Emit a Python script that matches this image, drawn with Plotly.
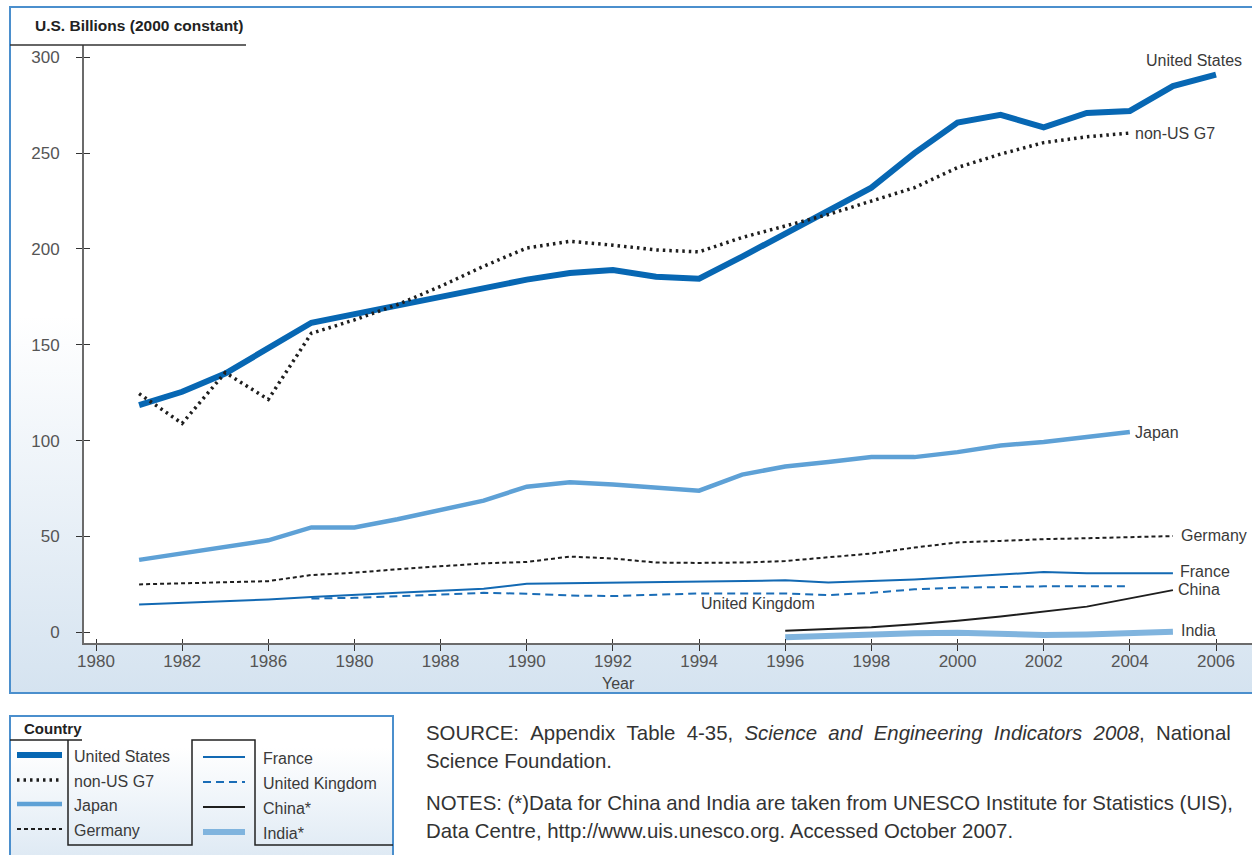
import base64
import plotly.graph_objects as go

# ---------------- data ----------------
years_us = list(range(1981, 2007))
us = [118.5, 125.5, 135.0, 148.0, 161.5, 166.0, 170.5, 175.5, 180.0, 184.0,
      187.5, 189.0, 185.5, 184.5, 196.0, 208.0, 220.0, 232.0, 250.0, 266.0,
      270.0, 263.5, 271.0, 272.0, 285.0, 291.0]

years_g7 = list(range(1981, 2005))
nonus_g7 = [124.5, 109.0, 135.5, 121.5, 156.0, 163.0, 171.0, 180.5, 191.0, 200.5,
            204.0, 202.0, 199.5, 198.5, 206.0, 212.0, 218.0, 225.0, 232.0, 242.5,
            249.5, 255.5, 258.5, 260.5]

years_japan = list(range(1981, 2005))
japan = [37.8, 41.3, 44.6, 48.0, 54.7, 54.7, 59.0, 63.8, 68.7, 76.0,
         78.3, 77.1, 75.4, 73.9, 82.3, 86.5, 88.8, 91.4, 91.4, 94.0,
         97.5, 99.3, 101.9, 104.5]

years_germany = list(range(1981, 2006))
germany = [25.0, 25.6, 26.2, 26.7, 29.9, 31.1, 32.9, 34.6, 36.0, 36.7,
           39.5, 38.5, 36.4, 36.2, 36.4, 37.2, 39.3, 41.1, 44.2, 46.9,
           47.7, 48.6, 49.1, 49.5, 50.2]

years_france = list(range(1981, 2006))
france = [14.5, 15.4, 16.2, 17.1, 18.4, 19.7, 20.7, 21.7, 22.7, 25.3,
          25.6, 26.0, 26.3, 26.7, 26.9, 27.1, 26.0, 26.7, 27.6, 28.8,
          30.2, 31.4, 30.8, 30.8, 30.8]

years_uk = list(range(1985, 2005))
uk = [17.6, 18.0, 18.8, 19.7, 20.6, 20.1, 19.2, 18.9, 19.7, 20.3,
      20.3, 20.3, 19.4, 20.6, 22.4, 23.3, 23.6, 24.0, 24.0, 24.0]

years_china = list(range(1996, 2006))
china = [0.8, 1.7, 2.6, 4.2, 6.0, 8.3, 10.7, 13.4, 17.7, 22.0]

years_india = list(range(1996, 2006))
india = [-2.6, -1.7, -0.9, -0.5, -0.2, -0.8, -1.4, -1.1, -0.6, 0.3]

tick_years = list(range(1980, 2007, 2))
tick_text = ["1980", "1982", "1986", "1980", "1988", "1990", "1992",
             "1994", "1996", "1998", "2000", "2002", "2004", "2006"]
y_ticks = [0, 50, 100, 150, 200, 250, 300]

legend_col1 = ["United States", "non-US G7", "Japan", "Germany"]
legend_col2 = ["France", "United Kingdom", "China*", "India*"]

# ---------------- styles ----------------
FONT = "Liberation Sans, Arial, Helvetica, sans-serif"
TXT = "#3a3a3a"
C_US = "#0767b3"
C_JP = "#5ea1d6"
C_IN = "#80b4de"
C_FR = "#1269b3"
C_UK = "#1a6db7"
C_BK = "#1e1e1e"

style = {
    "United States": dict(color=C_US, width=6, dash="solid"),
    "non-US G7": dict(color=C_BK, width=3.5, dash="2.5px,4px"),
    "Japan": dict(color=C_JP, width=4.5, dash="solid"),
    "Germany": dict(color=C_BK, width=2, dash="4px,3px"),
    "France": dict(color=C_FR, width=2, dash="solid"),
    "United Kingdom": dict(color=C_UK, width=2, dash="8px,5px"),
    "China*": dict(color=C_BK, width=2, dash="solid"),
    "India*": dict(color=C_IN, width=6, dash="solid"),
}

W, H = 1252, 855
L, R, T, B = 84, 1252, 45, 643      # plot area in pixels


def px(x):
    return (x - L) / (R - L)


def py(y):
    return (B - y) / (B - T)


series = [
    ("India*", years_india, india),
    ("Japan", years_japan, japan),
    ("United States", years_us, us),
    ("non-US G7", years_g7, nonus_g7),
    ("Germany", years_germany, germany),
    ("United Kingdom", years_uk, uk),
    ("France", years_france, france),
    ("China*", years_china, china),
]

fig = go.Figure()
for name, xs, ys in series:
    st = style[name]
    fig.add_trace(go.Scatter(
        x=xs, y=ys, mode="lines", name=name, showlegend=False, hoverinfo="skip",
        line=dict(color=st["color"], width=st["width"], dash=st["dash"]),
    ))

# dummy trace for the overlay axes that draw the inner half of the cross ticks
fig.add_trace(go.Scatter(x=[None], y=[None], xaxis="x2", yaxis="y2",
                         showlegend=False, hoverinfo="skip"))

x_range = [1980 - 12 / 43.077, 1980 + 1156 / 43.077]
y_range = [-5.58, 306.42]

fig.update_layout(
    width=W, height=H,
    margin=dict(l=L, r=W - R, t=T, b=H - B, pad=0),
    paper_bgcolor="white", plot_bgcolor="white",
    font=dict(family=FONT, color=TXT, size=16),
    showlegend=False,
    xaxis=dict(range=x_range, tickvals=tick_years, ticktext=tick_text,
               showgrid=False, zeroline=False, showline=True, linecolor="#6b6b6b",
               linewidth=2, ticks="outside", ticklen=6, tickwidth=1.3,
               tickcolor="#333", ticklabelstandoff=-4,
               tickfont=dict(size=17, color="#555")),
    yaxis=dict(range=y_range, tickvals=y_ticks, showgrid=False, zeroline=False,
               showline=True, linecolor="#6b6b6b", linewidth=2, ticks="outside",
               ticklen=6, tickwidth=1.3, tickcolor="#333", ticklabelstandoff=13,
               tickfont=dict(size=17, color="#555")),
    xaxis2=dict(range=x_range, overlaying="x", anchor="y2", tickvals=tick_years,
                showticklabels=False, showgrid=False, zeroline=False, showline=False,
                ticks="inside", ticklen=4, tickwidth=1.3, tickcolor="#333"),
    yaxis2=dict(range=y_range, overlaying="y", anchor="x2", tickvals=y_ticks,
                showticklabels=False, showgrid=False, zeroline=False, showline=False,
                ticks="inside", ticklen=6, tickwidth=1.3, tickcolor="#333"),
)


def grad(bottom, mid):
    svg = ("<svg xmlns='http://www.w3.org/2000/svg' width='100' height='100' "
           "viewBox='0 0 100 100' preserveAspectRatio='none'><defs>"
           "<linearGradient id='g' x1='0' y1='0' x2='0' y2='1'>"
           "<stop offset='0' stop-color='#ffffff'/>"
           f"<stop offset='{mid}' stop-color='#ffffff'/>"
           f"<stop offset='1' stop-color='{bottom}'/></linearGradient></defs>"
           "<rect width='100' height='100' fill='url(#g)'/></svg>")
    return "data:image/svg+xml;base64," + base64.b64encode(svg.encode()).decode()


fig.update_layout(images=[
    dict(source=grad("#d5e3f0", 0.45), xref="paper", yref="paper",
         x=px(10), y=py(7), sizex=px(1262) - px(10), sizey=py(7) - py(693),
         xanchor="left", yanchor="top", sizing="stretch", layer="below"),
    dict(source=grad("#d9e6f2", 0.2), xref="paper", yref="paper",
         x=px(10), y=py(716), sizex=px(393) - px(10), sizey=py(716) - py(875),
         xanchor="left", yanchor="top", sizing="stretch", layer="below"),
])

shapes = []
FRAME = "#4b8fcd"
# white plot area over the gradient
shapes.append(dict(type="rect", xref="paper", yref="paper", x0=0, x1=1, y0=0, y1=1,
                   line=dict(width=0), fillcolor="white", layer="below"))
shapes.append(dict(type="rect", xref="paper", yref="paper", x0=px(10), x1=px(1262),
                   y0=py(693), y1=py(7), line=dict(color=FRAME, width=2),
                   fillcolor="rgba(0,0,0,0)", layer="above"))
shapes.append(dict(type="rect", xref="paper", yref="paper", x0=px(10), x1=px(393),
                   y0=py(880), y1=py(716), line=dict(color=FRAME, width=2),
                   fillcolor="rgba(0,0,0,0)", layer="above"))
# rule under the y-axis title
shapes.append(dict(type="line", xref="paper", yref="paper", x0=px(10), x1=px(246),
                   y0=py(45), y1=py(45), line=dict(color="#333", width=1.5)))
# legend tab outline
path = f"M{px(10)},{py(740)} L{px(82)},{py(740)} " \
       f"M{px(68)},{py(740)} L{px(68)},{py(845)} L{px(192)},{py(845)} " \
       f"L{px(192)},{py(740)} L{px(255)},{py(740)} L{px(255)},{py(845)} L{px(393)},{py(845)}"
shapes.append(dict(type="path", xref="paper", yref="paper", path=path,
                   line=dict(color="#222", width=1.5)))

annotations = []
# legend entries
rows1 = [755, 780, 804, 829]
rows2 = [757, 782, 807, 832]
for names, rows, sx0, sx1, tx in ((legend_col1, rows1, 17, 62, 72),
                                  (legend_col2, rows2, 203, 245, 261)):
    for nm, ry in zip(names, rows):
        st = style[nm]
        shapes.append(dict(type="line", xref="paper", yref="paper",
                           x0=px(sx0), x1=px(sx1), y0=py(ry), y1=py(ry),
                           line=dict(color=st["color"], width=st["width"], dash=st["dash"])))
        annotations.append(dict(xref="paper", yref="paper", x=px(tx), y=py(ry + 1),
                                text=nm, showarrow=False, xanchor="left", yanchor="middle",
                                font=dict(size=16, color=TXT)))
annotations.append(dict(xref="paper", yref="paper", x=px(22), y=py(729),
                        text="<b>Country</b>", showarrow=False, xanchor="left",
                        yanchor="middle", font=dict(size=15, color="#222")))

# axis titles
annotations.append(dict(xref="paper", yref="paper", x=px(33), y=py(26),
                        text="<b>U.S. Billions (2000 constant)</b>", showarrow=False,
                        xanchor="left", yanchor="middle", font=dict(size=15.5, color="#222")))
annotations.append(dict(xref="paper", yref="paper", x=px(618), y=py(683),
                        text="Year", showarrow=False, xanchor="center",
                        yanchor="middle", font=dict(size=16, color="#444")))

# end-of-line labels
end_labels = [
    ("United States", years_us, us, "right", 28, 14),
    ("non-US G7", years_g7, nonus_g7, "left", 3, 0),
    ("Japan", years_japan, japan, "left", 3, 0),
    ("Germany", years_germany, germany, "left", 6, 1),
    ("France", years_france, france, "left", 5, 2),
    ("China", years_china, china, "left", 3, 1),
    ("India", years_india, india, "left", 6, 1),
]
for txt, xs, ys, anc, dx, dy in end_labels:
    annotations.append(dict(x=xs[-1], y=ys[-1], xref="x", yref="y", text=txt,
                            showarrow=False, xanchor=anc, yanchor="middle",
                            xshift=dx, yshift=dy, font=dict(size=16, color=TXT)))
annotations.append(dict(x=years_uk[11], y=uk[11], xref="x", yref="y",
                        text="United Kingdom", showarrow=False, xanchor="center",
                        yanchor="middle", xshift=-27, yshift=-10,
                        font=dict(size=16, color=TXT)))

# source & notes (first line is justified in the original: widen its word gaps)
J = " \u00a0"
line1 = J.join(["SOURCE:", "Appendix", "Table", "4-35,", "<i>Science", "and",
                "Engineering", "Indicators", "2008</i>,", "National"])
notes = [
    (733, line1),
    (761, "Science Foundation."),
    (803, "NOTES: (*)Data for China and India are taken from UNESCO Institute for Statistics (UIS),"),
    (831, "Data Centre, http://www.uis.unesco.org. Accessed October 2007."),
]
for yy, txt in notes:
    annotations.append(dict(xref="paper", yref="paper", x=px(424), y=py(yy), text=txt,
                            showarrow=False, xanchor="left", yanchor="middle",
                            font=dict(size=20.4, color="#333")))

fig.update_layout(shapes=shapes, annotations=annotations)

fig.write_html("out.html", config={"displayModeBar": False},
               post_script="document.body.style.margin='0';document.body.style.overflow='hidden';")
